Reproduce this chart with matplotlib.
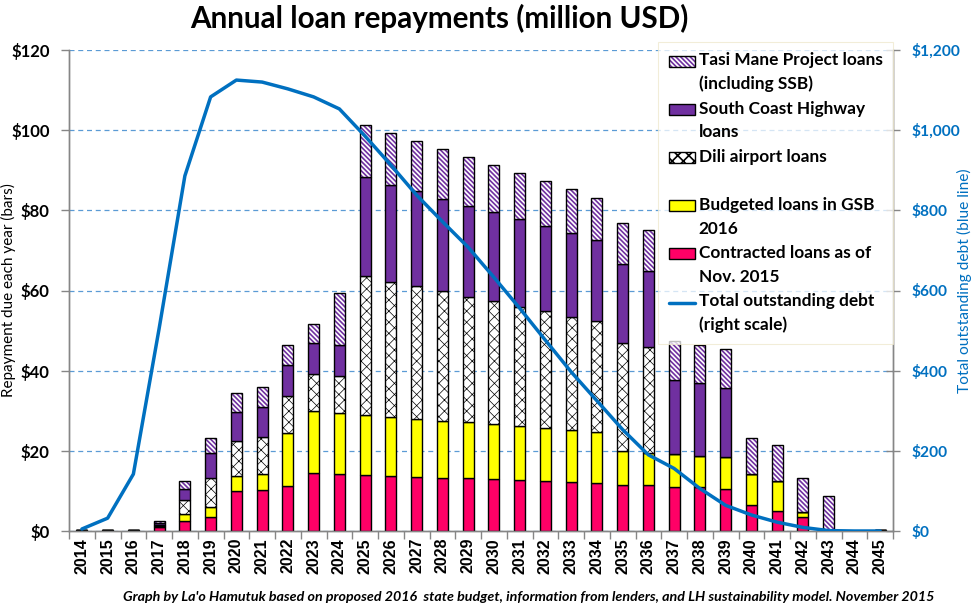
import matplotlib
matplotlib.use("Agg")
import matplotlib.pyplot as plt
from matplotlib.colors import to_rgba
from matplotlib.ticker import FuncFormatter, MultipleLocator
from matplotlib.patches import Rectangle
from matplotlib.lines import Line2D
from matplotlib.container import BarContainer
from matplotlib.legend_handler import HandlerPatch, HandlerLine2D, update_from_first_child
import numpy as np

years = list(range(2014, 2046))
contracted = [0.15, 0.15, 0.15, 1.0, 2.4, 3.4, 10.0, 10.2, 11.2, 14.5, 14.1, 14.0, 13.7, 13.5, 13.2, 13.2,
              13.0, 12.7, 12.5, 12.2, 11.9, 11.6, 11.4, 11.1, 10.9, 10.6, 6.4, 4.9, 3.4, 0, 0, 0.15]
budgeted = [0, 0, 0, 0.2, 1.8, 2.7, 3.6, 3.9, 13.3, 15.4, 15.3, 14.9, 14.7, 14.4, 14.2, 13.9,
            13.6, 13.4, 13.1, 12.9, 12.7, 8.3, 8.0, 8.0, 7.7, 7.8, 7.7, 7.5, 1.3, 0, 0, 0]
dili = [0, 0, 0, 0.4, 3.5, 7.0, 8.8, 9.3, 9.1, 9.2, 9.2, 34.6, 33.8, 33.1, 32.4, 31.4,
        30.7, 29.9, 29.2, 28.4, 27.7, 26.9, 26.4, 0, 0, 0, 0, 0, 0, 0, 0, 0]
south_coast = [0, 0, 0, 0.5, 2.9, 6.3, 7.2, 7.5, 7.7, 7.7, 7.7, 24.8, 24.2, 23.7, 23.1, 22.7,
               22.2, 21.8, 21.3, 20.8, 20.3, 19.8, 19.0, 18.5, 18.2, 17.4, 0, 0, 0, 0, 0, 0]
tasi_mane = [0, 0, 0, 0.4, 1.8, 3.7, 4.8, 5.0, 5.0, 4.8, 13.0, 12.9, 12.8, 12.5, 12.3, 12.0,
             11.7, 11.4, 11.1, 10.9, 10.6, 10.2, 10.2, 9.9, 9.5, 9.5, 9.0, 9.0, 8.4, 8.7, 0, 0]
debt = [5, 32, 142, 505, 886, 1083, 1125, 1120, 1103, 1083, 1053, 985, 913, 838, 772, 708,
        633, 556, 476, 397, 325, 253, 190, 156, 106, 64, 40, 22, 9, 1, 0, 0]

labels = ["Contracted loans as of\nNov. 2015", "Budgeted loans in GSB\n2016", "Dili airport loans\n",
          "South Coast Highway\nloans", "Tasi Mane Project loans\n(including SSB)"]

PINK = "#FF0066"
YELLOW = "#FFFF00"
PURPLE = "#7030A0"
BLUE = "#0070C0"
GRID = "#5B9BD5"
SPINE = "#868686"

LEG_FS = 12.4
LINESP = 1.57
SHIFT = 0.5 * LINESP * LEG_FS * 0.85  # points: raise handle to first text line

fig = plt.figure(figsize=(9.73, 6.1), dpi=100)
ax = fig.add_axes([69 / 973, 1 - 531 / 610, (893 - 69) / 973, (531 - 50) / 610])
ax2 = ax.twinx()

x = np.arange(len(years))
w = 0.42
bottom = np.zeros(len(years))
series = [contracted, budgeted, dili, south_coast, tasi_mane]
styles = [
    dict(facecolor=PINK, hatch=None, hc=None, hlw=1.0),
    dict(facecolor=YELLOW, hatch=None, hc=None, hlw=1.0),
    dict(facecolor="white", hatch="xxx", hc="black", hlw=0.5),
    dict(facecolor=PURPLE, hatch=None, hc=None, hlw=1.0),
    dict(facecolor="white", hatch="\\" * 7, hc=PURPLE, hlw=1.2),
]
handles = {}
for vals, st, lab in zip(series, styles, labels):
    vals = np.array(vals, dtype=float)
    plt.rcParams["hatch.linewidth"] = st["hlw"]
    bars = ax.bar(x, vals, w, bottom=bottom, facecolor=st["facecolor"], edgecolor="black",
                  linewidth=1.0, hatch=st["hatch"], label=lab, zorder=3)
    for p in bars.patches:
        if st["hc"] is not None:
            p._hatch_color = to_rgba(st["hc"])
        if hasattr(p, "set_hatch_linewidth"):
            p.set_hatch_linewidth(st["hlw"])
    handles[lab] = bars
    bottom += vals

ax.set_xlim(-0.5, len(years) - 0.5)
ax.set_ylim(0, 120)
ax.yaxis.set_major_locator(MultipleLocator(20))
ax.yaxis.set_major_formatter(FuncFormatter(lambda v, p: f"${v:,.0f}"))
ax.grid(axis="y", color=GRID, linestyle=(0, (4, 3)), linewidth=0.9, zorder=0)
ax.set_axisbelow(True)

ax.set_xticks(x)
ax.set_xticklabels([str(y) for y in years], rotation=90, fontsize=11.5, fontweight="bold",
                   family="Liberation Sans")
ax.set_xticks(np.arange(-0.5, len(years) + 0.5, 1), minor=True)
ax.tick_params(axis="x", which="major", length=0, pad=5)
ax.tick_params(axis="x", which="minor", length=6, color=SPINE, width=1)
ax.tick_params(axis="y", length=6, color=SPINE, width=1, pad=8)
for lab in ax.get_yticklabels():
    lab.set_fontweight("bold")
    lab.set_fontsize(12)
    lab.set_family("Lato")

line, = ax2.plot(x, debt, color=BLUE, linewidth=2.5, zorder=5,
                 label="Total outstanding debt\n(right scale)", solid_capstyle="round")
ax2.set_ylim(0, 1200)
ax2.yaxis.set_major_locator(MultipleLocator(200))
ax2.yaxis.set_major_formatter(FuncFormatter(lambda v, p: f"${v:,.0f}"))
ax2.tick_params(axis="y", direction="inout", length=10, color=SPINE, width=1, pad=8,
                labelcolor=BLUE)
for lab in ax2.get_yticklabels():
    lab.set_fontweight("bold")
    lab.set_fontsize(11.2)
    lab.set_family("Lato")

for a in (ax, ax2):
    for s in a.spines.values():
        s.set_color(SPINE)
        s.set_linewidth(1)
    a.spines["top"].set_visible(False)

ax.set_ylabel("Repayment due each year (bars)", fontsize=11, family="Lato")
ax.yaxis.set_label_coords((16 - 69) / 824, 0.5)
ax2.set_ylabel("Total outstanding debt (blue line)", fontsize=11.2, family="Lato", color=BLUE)
ax2.yaxis.set_label_coords((957 - 69) / 824, 0.52)

fig.text(0.452, 0.97, "Annual loan repayments (million USD)", ha="center", va="center",
         fontsize=21.3, fontweight="bold", family="Lato")
fig.text(0.543, 0.021, "Graph by La'o Hamutuk based on proposed 2016  state budget, information from lenders, "
         "and LH sustainability model. November 2015", ha="center", va="center",
         fontsize=10.3, fontweight="bold", style="italic", family="Lato")


def shifted_rect(legend, orig_handle, xdescent, ydescent, width, height, fontsize):
    return Rectangle((-xdescent, -ydescent + SHIFT), width, height)


class ShiftedLine(HandlerLine2D):
    def create_artists(self, legend, orig_handle, xdescent, ydescent, width, height,
                       fontsize, trans):
        arts = super().create_artists(legend, orig_handle, xdescent, ydescent, width,
                                      height, fontsize, trans)
        for a in arts:
            if isinstance(a, Line2D):
                a.set_ydata(np.asarray(a.get_ydata(), dtype=float) + SHIFT)
        return arts


order = [labels[4], labels[3], labels[2], labels[1], labels[0]]
hs = [handles[l] for l in order] + [line]
ls = order + [line.get_label()]
leg = ax2.legend(hs, ls, loc="upper right", bbox_to_anchor=(1.0, 1.017), frameon=True,
                 prop=dict(family="Lato", weight="bold", size=LEG_FS), handlelength=1.55,
                 handleheight=0.6, handletextpad=0.2, labelspacing=0.5, borderpad=0.6,
                 borderaxespad=0.0, fancybox=False, framealpha=0.75, edgecolor="#EEE8CC",
                 handler_map={BarContainer: HandlerPatch(patch_func=shifted_rect,
                                                         update_func=update_from_first_child),
                              Line2D: ShiftedLine()})
for t in leg.get_texts():
    t.set_linespacing(LINESP)
leg.get_frame().set_linewidth(0.8)

fig.savefig("out.png", dpi=100)
